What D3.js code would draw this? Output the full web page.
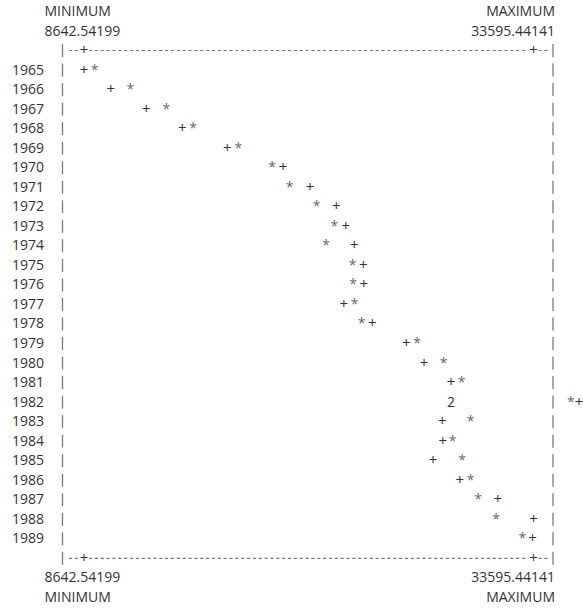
<!DOCTYPE html>
<html>
<head>
<meta charset="utf-8">
<script src="https://cdn.jsdelivr.net/npm/d3@7/dist/d3.min.js"></script>
<style>
  html, body { margin: 0; padding: 0; background: #fff; }
  svg { display: block; font-family: "Open Sans", "Noto Sans", sans-serif; }
</style>
</head>
<body>
<svg id="chart" width="583" height="608"></svg>
<script>
// Yearly values of the two plotted series ("+" and "*")
const years = [1965, 1966, 1967, 1968, 1969, 1970, 1971, 1972, 1973, 1974, 1975, 1976, 1977,
               1978, 1979, 1980, 1981, 1982, 1983, 1984, 1985, 1986, 1987, 1988, 1989];
const plusSeries = [8642.54199, 10125, 12101, 14099, 16598, 19689, 21189, 22648, 23170, 23648, 24147, 24170, 23059,
                    24647, 26534, 27517, 29016, 29020, 28532, 28560, 28016, 29498, 31608, 33595.44141, 33540];
const starSeries = [9237, 11213, 13211, 14693, 17208, 19079, 20061, 21560, 22537, 22077, 23559, 23580, 23670,
                    24058, 27128, 28610, 29610, 29000, 30109, 29110, 29626, 30109, 30514, 31513, 32974];
const axisEnds = [8642.54199, 33595.44141];
const axisEndLabels = ["8642.54199", "33595.44141"];
const axisEndNames = ["MINIMUM", "MAXIMUM"];

const svg = d3.select("#chart");
const fontSize = 14;
const plusSize = 15;
const textColor = "#333333";
const starColor = "#6a6a6a";
const ruleColor = "#7a7a7a";

// every row of the plot sits on a fixed line grid
const lineStep = 19.53, firstBase = 16;
const baseline = i => firstBase + lineStep * i;

const x = d3.scaleLinear().domain(axisEnds).range([84, 533.5]);
const y = d3.scalePoint().domain(years).range([baseline(3), baseline(3 + years.length - 1)]);
const leftBar = x.range()[0] - 21.5;
const rightBar = x.range()[1] + 19.5;
const topRule = baseline(2);
const bottomRule = baseline(3 + years.length);

const g = svg.append("g").attr("font-size", fontSize).attr("fill", textColor);

// header and footer: extreme values and their names
[[0, 1], [3 + years.length + 2, 3 + years.length + 1]].forEach(([nameLine, valueLine]) => {
  g.append("text").attr("x", 44.5).attr("y", baseline(nameLine)).text(axisEndNames[0]);
  g.append("text").attr("x", 44.5).attr("y", baseline(valueLine)).text(axisEndLabels[0]);
  g.append("text").attr("x", 555).attr("y", baseline(nameLine)).attr("text-anchor", "end").text(axisEndNames[1]);
  g.append("text").attr("x", 555).attr("y", baseline(valueLine)).attr("text-anchor", "end").text(axisEndLabels[1]);
});

// dashed rules with the extremes marked by "+"
[topRule, bottomRule].forEach(b => {
  const xm = x(axisEnds[0]), xM = x(axisEnds[1]);
  const segs = [[xm - 15, xm - 5], [xm + 5, xM - 5], [xM + 5, xM + 16]];
  segs.forEach(([a, c]) => {
    g.append("line")
      .attr("x1", a).attr("x2", c)
      .attr("y1", b - 4.5).attr("y2", b - 4.5)
      .attr("stroke", ruleColor).attr("stroke-width", 1.1)
      .attr("stroke-dasharray", "3.2,2.65");
  });
  axisEnds.forEach(v => {
    g.append("text").attr("x", x(v)).attr("y", b).attr("font-size", plusSize)
      .attr("text-anchor", "middle").text("+");
  });
});

// vertical frame, drawn as one short bar per text line
const frameLines = d3.range(2, 3 + years.length + 1).map(baseline);
[leftBar, rightBar].forEach(bx => {
  g.selectAll(null).data(frameLines).join("line")
    .attr("x1", bx).attr("x2", bx)
    .attr("y1", b => b - 11).attr("y2", b => b + 2)
    .attr("stroke", ruleColor).attr("stroke-width", 1.3);
});

// year labels
g.selectAll(null).data(years).join("text")
  .attr("x", 12).attr("y", d => y(d)).text(d => d);

// markers; coinciding points show their count and list the symbols at the right
years.forEach((yr, i) => {
  const xp = x(plusSeries[i]), xs = x(starSeries[i]);
  if (Math.abs(xp - xs) < 3) {
    g.append("text").attr("x", (xp + xs) / 2).attr("y", y(yr)).attr("text-anchor", "middle").text("2");
    g.append("text").attr("x", rightBar + 14).attr("y", y(yr))
      .call(t => t.append("tspan").attr("fill", starColor).text("*"))
      .call(t => t.append("tspan").attr("font-size", plusSize).text("+"));
  } else {
    g.append("text").attr("x", xp).attr("y", y(yr)).attr("font-size", plusSize)
      .attr("text-anchor", "middle").text("+");
    g.append("text").attr("x", xs).attr("y", y(yr)).attr("text-anchor", "middle")
      .attr("fill", starColor).text("*");
  }
});
</script>
</body>
</html>
